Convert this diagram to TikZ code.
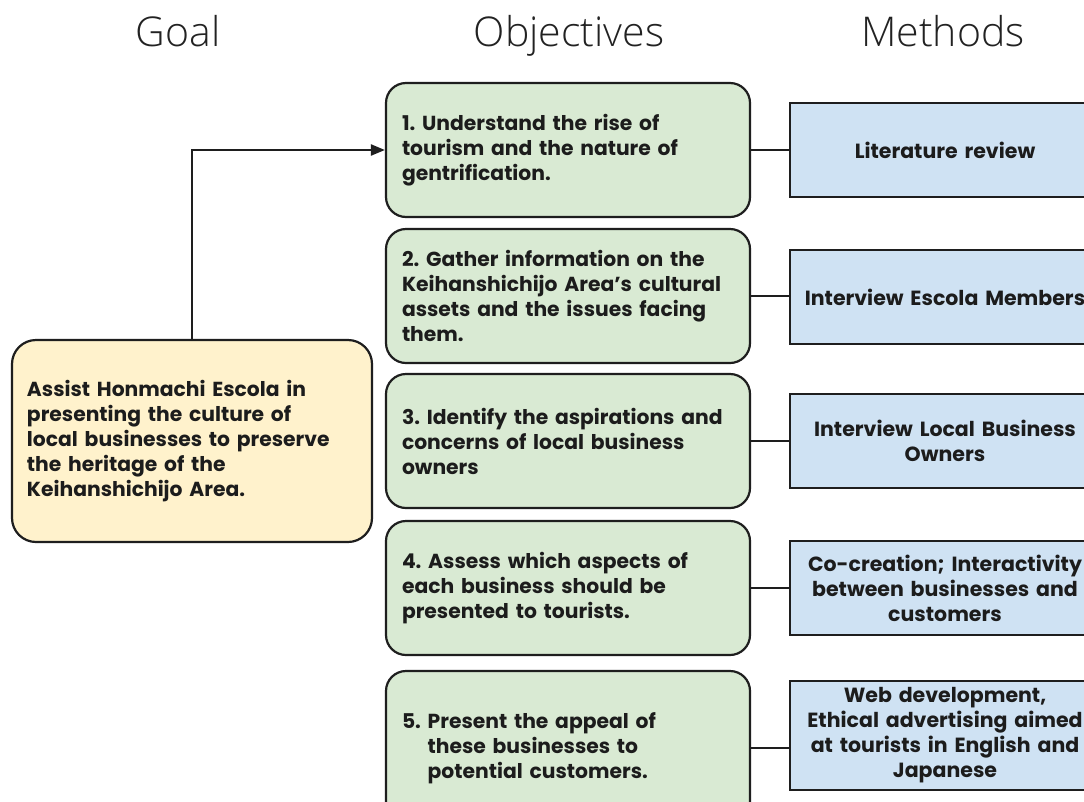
\documentclass[tikz,border=0pt]{standalone}
\usepackage{fontspec}
\setmainfont{Poppins}
\newfontfamily\titlefont{Open Sans Light}
\usetikzlibrary{arrows.meta}
\frenchspacing
\definecolor{goalfill}{HTML}{FFF2CC}
\definecolor{objfill}{HTML}{D9EAD3}
\definecolor{methfill}{HTML}{CFE2F3}
\definecolor{edge}{HTML}{1E1E1E}
\definecolor{ink}{HTML}{1C1C1C}
\definecolor{titleink}{HTML}{222222}
\tikzset{
  title/.style={font=\titlefont\fontsize{41}{45}\selectfont, text=titleink, anchor=base, inner sep=0pt},
  goalbox/.style={draw=edge, line width=2.2pt, fill=goalfill, rounded corners=24pt,
    minimum width=360pt, minimum height=202pt, text width=330pt, inner xsep=15pt, align=left,
    font=\bfseries\fontsize{20.3}{25}\selectfont, text=ink},
  objbox/.style={draw=edge, line width=2.2pt, fill=objfill, rounded corners=20pt,
    minimum width=364pt, minimum height=134pt, text width=332pt, inner xsep=16pt, align=left,
    font=\bfseries\fontsize{20.3}{25}\selectfont, text=ink},
  methbox/.style={draw=edge, line width=2.2pt, fill=methfill,
    minimum width=310pt, minimum height=94pt, text width=300pt, inner xsep=5pt, align=center,
    font=\bfseries\fontsize{20.5}{25}\selectfont, text=ink},
  link/.style={draw=edge, line width=2.2pt},
}
\begin{document}
\begin{tikzpicture}[x=1pt,y=-1pt]
\useasboundingbox (0,0) rectangle (1084,801);
\fill[white] (0,0) rectangle (1084,801);
\clip (0,0) rectangle (1084,801);

\node[title] (tgoal) at (178,46) {Goal};
\node[title] (tobj) at (569,46) {Objectives};
\node[title] (tmeth) at (943,46) {Methods};

\node[goalbox] (goal) at (192,441) {Assist Honmachi Escola in\\presenting the culture of\\local businesses to preserve\\the heritage of the\\Keihanshichijo Area.};

\node[objbox] (o1) at (568,150) {1. Understand the rise of\\tourism and the nature of\\gentrification.};
\node[objbox] (o2) at (568,296) {2. Gather information on the\\Keihanshichijo Area’s cultural\\assets and the issues facing\\them.};
\node[objbox] (o3) at (568,441) {3. Identify the aspirations and\\concerns of local business\\owners};
\node[objbox] (o4) at (568,588) {4. Assess which aspects of\\each business should be\\presented to tourists.};
\node[objbox, minimum height=154pt] (o5) at (568,748) {5. Present the appeal of\\\phantom{5. }these businesses to\\\phantom{5. }potential customers.};

\node[methbox] (m1) at (945,150) {Literature review};
\node[methbox] (m2) at (945,297) {Interview Escola Members};
\node[methbox] (m3) at (945,441) {Interview Local Business\\Owners};
\node[methbox] (m4) at (945,588) {Co-creation; Interactivity\\between businesses and\\customers};
\node[methbox, minimum height=109pt] (m5) at (945,735.5) {Web development,\\Ethical advertising aimed\\at tourists in English and\\Japanese};

\draw[link, -{Triangle[length=14pt,width=11pt]}] (goal.north) |- (o1.west);
\foreach \i in {1,...,5}{
  \draw[link] (o\i.east) -- (o\i.east -| m\i.west);
}
\end{tikzpicture}
\end{document}
